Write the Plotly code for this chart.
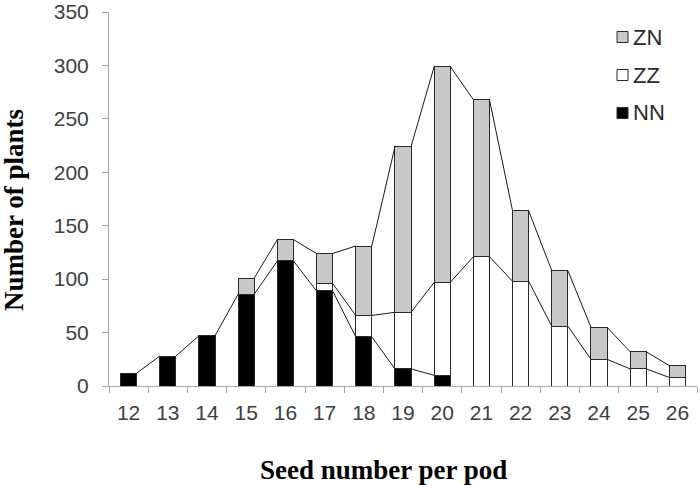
import plotly.graph_objects as go

seeds = [12, 13, 14, 15, 16, 17, 18, 19, 20, 21, 22, 23, 24, 25, 26]
nn = [12, 28, 47, 86, 117, 89, 46, 16, 10, None, None, None, None, None, None]
zz = [None, None, None, None, None, 7, 20, 53, 87, 121, 98, 56, 25, 16, 8]
zn = [None, None, None, 15, 20, 28, 65, 155, 202, 147, 66, 52, 30, 16, 11]

BAR_W = 0.41
OUTLINE = "#2a2a2a"
series = [("NN", nn, "#000000"), ("ZZ", zz, "#ffffff"), ("ZN", zn, "#c8c8c8")]

# plot-area geometry in pixels (for placing legend / titles)
L, R, T, B = 109, 697, 12, 386
W, H = R - L, B - T
def px(x): return (x - L) / W
def py(y): return (B - y) / H

fig = go.Figure()

cum = [0.0] * len(seeds)
tops = []
for name, vals, col in series:
    fig.add_trace(go.Bar(
        x=seeds, y=vals, name=name, width=BAR_W,
        marker=dict(color=col, line=dict(color=OUTLINE, width=1)),
        showlegend=False,
    ))
    top = []
    for i, v in enumerate(vals):
        if v is None:
            top.append(None)
        else:
            cum[i] += v
            top.append(cum[i])
    tops.append(top)

# series lines connecting segment tops between adjacent bars
for top in tops:
    lx, ly = [], []
    for i in range(len(seeds) - 1):
        if top[i] is not None and top[i + 1] is not None:
            lx += [seeds[i] + BAR_W / 2, seeds[i + 1] - BAR_W / 2, None]
            ly += [top[i], top[i + 1], None]
    fig.add_trace(go.Scatter(x=lx, y=ly, mode="lines",
                             line=dict(color="#1a1a1a", width=1),
                             showlegend=False, hoverinfo="skip"))

tick_font = dict(family="Liberation Sans, Arial, sans-serif", size=21, color="#404040")
legend_font = dict(family="Liberation Sans, Arial, sans-serif", size=22, color="#2a2a2a")
title_font = dict(family="Liberation Serif, Times New Roman, serif", size=27, color="#000000")

# manual legend (ZN, ZZ, NN from top)
shapes, annotations = [], []
legend_rows = [("ZN", "#c8c8c8", 37), ("ZZ", "#ffffff", 75), ("NN", "#000000", 113)]
for name, col, yc in legend_rows:
    shapes.append(dict(type="rect", xref="paper", yref="paper",
                       x0=px(617), x1=px(628), y0=py(yc + 5.5), y1=py(yc - 5.5),
                       fillcolor=col, line=dict(color=OUTLINE, width=1)))
    annotations.append(dict(text=name, xref="paper", yref="paper",
                            x=px(631), y=py(yc), xanchor="left", yanchor="middle",
                            showarrow=False, font=legend_font))

annotations += [
    dict(text="<b>Seed number per pod</b>", xref="paper", yref="paper",
         x=px(383), y=py(470), xanchor="center", yanchor="middle",
         showarrow=False, font=title_font),
    dict(text="<b>Number of plants</b>", xref="paper", yref="paper",
         x=px(14), y=py(210), xanchor="center", yanchor="middle",
         textangle=-90, showarrow=False, font=title_font),
]

fig.update_layout(
    width=700, height=485,
    margin=dict(l=L, r=700 - R, t=T, b=485 - B, autoexpand=False),
    plot_bgcolor="white", paper_bgcolor="white",
    barmode="stack",
    showlegend=False,
    shapes=shapes,
    annotations=annotations,
    xaxis=dict(
        range=[11.5, 26.5], tickvals=seeds, ticktext=[str(s) for s in seeds],
        ticks="", showline=True, linecolor="#a6a6a6", linewidth=1,
        showgrid=False, zeroline=False, tickfont=tick_font,
        ticklabelstandoff=8, automargin=False,
        minor=dict(tickvals=[s - 0.5 for s in seeds] + [seeds[-1] + 0.5],
                   ticks="outside", ticklen=6, tickcolor="#a6a6a6", showgrid=False),
    ),
    yaxis=dict(
        range=[0, 350], tickvals=list(range(0, 351, 50)),
        ticks="outside", ticklen=6, tickcolor="#a6a6a6",
        showline=True, linecolor="#a6a6a6", linewidth=1,
        showgrid=False, zeroline=False, tickfont=tick_font,
        ticklabelstandoff=9, automargin=False,
    ),
)

fig.write_html("out.html", config={"displayModeBar": False},
               post_script="document.body.style.margin='0';")
